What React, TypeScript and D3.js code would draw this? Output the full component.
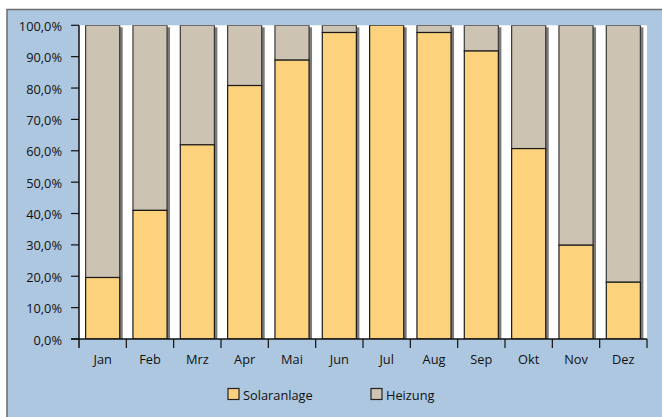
import React from "react";
import * as d3 from "d3";

const months = ["Jan", "Feb", "Mrz", "Apr", "Mai", "Jun", "Jul", "Aug", "Sep", "Okt", "Nov", "Dez"];
const solar = [19.6, 41.0, 61.9, 80.8, 88.9, 97.7, 100, 97.7, 91.8, 60.7, 29.9, 18.1];
const yTicks = [0, 10, 20, 30, 40, 50, 60, 70, 80, 90, 100];
const seriesNames = ["Solaranlage", "Heizung"];
const colors = ["#fdd27c", "#cdc3b2"];

const W = 662, H = 417;
const plot = { left: 79, right: 647, top: 25.3, bottom: 339 };
const FONT = "'Open Sans', sans-serif";
const FS = 12.8;

export default function App() {
  const x = d3.scaleBand<string>().domain(months).range([plot.left, plot.right]).paddingInner(0.28).paddingOuter(0.14);
  const y = d3.scaleLinear().domain([0, 100]).range([plot.bottom, plot.top]);
  const step = x.step();
  const fmt = (v: number) => v.toFixed(1).replace(".", ",") + "%";
  return (
    <svg width={W} height={H} style={{ position: "absolute", left: 0, top: 0 }} fontFamily={FONT}>
      <defs>
        <clipPath id="pc">
          <rect x={plot.left} y={plot.top} width={plot.right - plot.left} height={plot.bottom - plot.top} />
        </clipPath>
      </defs>
      <rect x={0} y={0} width={W} height={H} fill="#ffffff" />
      <rect x={7} y={9.5} width={W} height={H} fill="#adc7e0" stroke="#6b6b6b" strokeWidth={1.5} />
      <rect x={plot.left} y={plot.top} width={plot.right - plot.left} height={plot.bottom - plot.top} fill="#ffffff" />
      <g clipPath="url(#pc)">
        {months.map((m, i) => {
          const bx = x(m)!;
          const bw = x.bandwidth();
          const ys = y(solar[i]);
          return (
            <g key={m}>
              <rect x={bx + 3} y={y(100) + 2} width={bw} height={plot.bottom - y(100)} fill="#7a7a7a" />
              <rect x={bx} y={y(100)} width={bw} height={ys - y(100)} fill={colors[1]} stroke="#3a3a3a" strokeWidth={1.2} />
              <rect x={bx} y={ys} width={bw} height={plot.bottom - ys} fill={colors[0]} stroke="#1a1a1a" strokeWidth={1.2} />
            </g>
          );
        })}
      </g>
      <line x1={plot.left} x2={plot.left} y1={plot.top} y2={plot.bottom + 9} stroke="#111" strokeWidth={1.5} />
      <line x1={plot.left - 8} x2={plot.right} y1={plot.bottom} y2={plot.bottom} stroke="#111" strokeWidth={1.5} />
      {yTicks.map((t) => (
        <g key={t}>
          <line x1={plot.left - 8} x2={plot.left} y1={y(t)} y2={y(t)} stroke="#111" strokeWidth={1.2} />
          <text x={62} y={y(t) + 5.5} textAnchor="end" fontSize={FS} fill="#111">{fmt(t)}</text>
        </g>
      ))}
      {months.map((m, i) => (
        <g key={m}>
          <line x1={plot.left + step * (i + 1)} x2={plot.left + step * (i + 1)} y1={plot.bottom} y2={plot.bottom + 9} stroke="#111" strokeWidth={1.2} />
          <text x={x(m)! + x.bandwidth() / 2} y={364} textAnchor="middle" fontSize={FS} fill="#111">{m}</text>
        </g>
      ))}
      {seriesNames.map((s, i) => {
        const lx = i === 0 ? 228 : 371;
        return (
          <g key={s}>
            <rect x={lx} y={388.5} width={11} height={11} fill={colors[i]} stroke="#222" strokeWidth={1.2} />
            <text x={lx + 15} y={399.5} fontSize={FS} fill="#111">{s}</text>
          </g>
        );
      })}
    </svg>
  );
}
